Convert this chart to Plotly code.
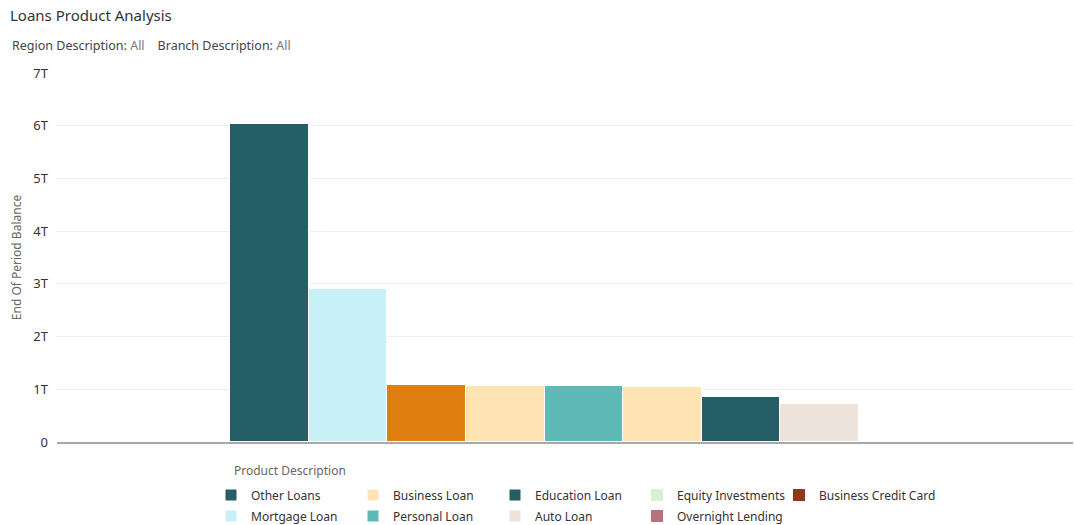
import plotly.graph_objects as go

# ==========================================================
# DATA
# ==========================================================
BAR_LABELS = ["Other Loans", "Mortgage Loan", "Product 3", "Business Loan",
              "Personal Loan", "Product 6", "Education Loan", "Auto Loan"]
BAR_VALUES = [6.03e12, 2.90e12, 1.076e12, 1.068e12, 1.066e12, 1.04e12, 0.854e12, 0.72e12]
BAR_COLORS = ["#255e66", "#c8f1f7", "#df7f12", "#fee3b5", "#5fb9b6", "#fee3b5", "#255e66", "#ede3da"]
BAR_IN_LEGEND = [True, True, False, True, True, False, True, True]

# legend-only products (no visible bar)
EXTRA_LABELS = ["Equity Investments", "Overnight Lending", "Business Credit Card"]
EXTRA_COLORS = ["#d8f2cf", "#b77180", "#8a3b1d"]

# legend rows as laid out in the reference
ROW1 = ["Other Loans", "Business Loan", "Education Loan", "Equity Investments", "Business Credit Card"]
ROW2 = ["Mortgage Loan", "Personal Loan", "Auto Loan", "Overnight Lending"]

FONT = "Noto Sans"

fig = go.Figure()


def legend_of(name):
    return "legend" if name in ROW1 else "legend2"


def rank_of(name):
    rows = ROW1 + ROW2
    return rows.index(name) + 1 if name in rows else 1000


for lab, val, col, show in zip(BAR_LABELS, BAR_VALUES, BAR_COLORS, BAR_IN_LEGEND):
    fig.add_trace(go.Bar(
        x=[lab], y=[val], name=lab,
        marker=dict(color=col, line=dict(color="white", width=1)),
        showlegend=show,
        legend=legend_of(lab),
        legendrank=rank_of(lab),
    ))

# zero-height bars so these still get a legend entry
for lab, col in zip(EXTRA_LABELS, EXTRA_COLORS):
    fig.add_trace(go.Bar(
        x=[BAR_LABELS[-1]], y=[0], name=lab,
        marker=dict(color=col, line=dict(width=0)),
        hoverinfo="skip",
        legend=legend_of(lab),
        legendrank=rank_of(lab),
    ))

# blank filler entry at the end of each legend row so the last label isn't clipped
for lg in ["legend", "legend2"]:
    fig.add_trace(go.Bar(
        x=[BAR_LABELS[-1]], y=[0], name=" ",
        marker=dict(color="rgba(0,0,0,0)", line=dict(width=0)),
        hoverinfo="skip", legend=lg, legendrank=2000,
    ))

# -------------------------------
# LAYOUT
# -------------------------------
W, H = 1074, 525
L, R, T, B = 57, 1073, 73, 442
n = len(BAR_LABELS)
px_per_bar = (859 - 230) / n
x0 = -0.5 - (230 - L) / px_per_bar
x1 = x0 + (R - L) / px_per_bar


def px_x(p):
    return (p - L) / (R - L)


def px_y(p):
    return (B - p) / (B - T)


legend_common = dict(
    orientation="h", xanchor="left", yanchor="middle",
    xref="container", yref="container",
    font=dict(family=FONT, size=12, color="#333333"),
    entrywidth=97, entrywidthmode="pixels",
    itemclick=False, itemdoubleclick=False,
    bgcolor="rgba(0,0,0,0)", tracegroupgap=0,
)

fig.update_layout(
    width=W, height=H,
    margin=dict(l=L, r=W - R, t=T, b=H - B),
    paper_bgcolor="white", plot_bgcolor="white",
    font=dict(family=FONT, color="#333333"),
    barmode="overlay", bargap=0,
    title=dict(text="Loans Product Analysis", x=10 / W, xref="container", xanchor="left",
               y=1 - 16 / H, yref="container", yanchor="middle",
               font=dict(family=FONT, size=15, color="#333333")),
    showlegend=True,
    legend=dict(x=211 / W, y=1 - 495 / H, **legend_common),
    legend2=dict(x=211 / W, y=1 - 516 / H, **legend_common),
    annotations=[
        dict(text="Region Description: <span style='color:#777777'>All</span>"
                  "    Branch Description: <span style='color:#777777'>All</span>",
             x=px_x(10), xref="paper", xanchor="left",
             y=px_y(46), yref="paper", yanchor="middle",
             showarrow=False, font=dict(family=FONT, size=12.5, color="#444444")),
        dict(text="Product Description",
             x=px_x(232), xref="paper", xanchor="left",
             y=px_y(470), yref="paper", yanchor="middle",
             showarrow=False, font=dict(family=FONT, size=12, color="#666666")),
    ],
)

fig.update_xaxes(
    range=[x0, x1], showticklabels=False, showgrid=False,
    showline=True, linecolor="#a8a8a8", linewidth=2, ticks="",
)
fig.update_yaxes(
    range=[0, 7e12], dtick=1e12, tickformat="~s",
    showgrid=True, gridcolor="#eeeeee", gridwidth=1, zeroline=False,
    tickfont=dict(family=FONT, size=13, color="#333333"),
    ticklabelstandoff=8,
    title=dict(text="End Of Period Balance", standoff=9,
               font=dict(family=FONT, size=12, color="#666666")),
)

fig.write_html("out.html", config={"displayModeBar": False},
               post_script="document.body.style.margin='0';")
